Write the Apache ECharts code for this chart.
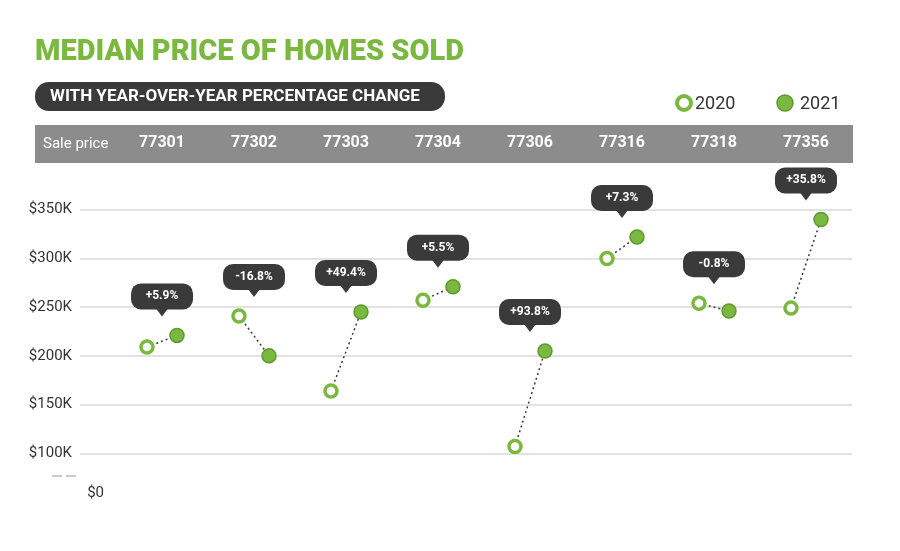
<!DOCTYPE html>
<html><head><meta charset="utf-8">
<script src="https://cdn.jsdelivr.net/npm/echarts@6/dist/echarts.min.js"></script>
<style>html,body{margin:0;background:#fff}#c{width:900px;height:551px}</style>
</head><body><div id="c"></div>
<script>
const zips = ['77301','77302','77303','77304','77306','77316','77318','77356'];
const price2020 = [209, 241, 164, 257, 107, 300, 254, 249];
const price2021 = [221, 200, 245, 271, 205, 322, 246, 340];
const changeLabels = ['+5.9%','-16.8%','+49.4%','+5.5%','+93.8%','+7.3%','-0.8%','+35.8%'];
const yTicks = [100,150,200,250,300,350];

const GREEN = '#7ab840', DARK = '#3a3a3a', FONT = 'Roboto, "Open Sans", sans-serif';
const chart = echarts.init(document.getElementById('c'));
const data = zips.map((z,i)=>[i, price2020[i], price2021[i], changeLabels[i]]);

chart.setOption({
  animation:false,
  grid:[{left:80,right:48,top:161,bottom:49},{left:116,right:48,top:161,bottom:49}],
  xAxis:[
    {gridIndex:0,type:'value',show:false,min:0,max:1},
    {gridIndex:1,type:'category',data:zips,position:'top',axisLine:{show:false},axisTick:{show:false},
     axisLabel:{color:'#fff',fontWeight:'bold',fontSize:16,margin:10,fontFamily:FONT}}
  ],
  yAxis:[
    {gridIndex:0,type:'value',min:50,max:400,interval:50,
     axisLine:{show:false},axisTick:{show:false},
     splitLine:{showMinLine:false,showMaxLine:false,lineStyle:{color:'#d9d9d9',width:1.5}},
     axisLabel:{showMinLabel:false,showMaxLabel:false,color:'#333',fontSize:15,fontFamily:FONT,margin:8,
       formatter:v=>yTicks.includes(v)?'$'+v+'K':''}},
    {gridIndex:1,type:'value',min:50,max:400,show:false}
  ],
  series:[{
    type:'custom',xAxisIndex:1,yAxisIndex:1,data:data,
    renderItem:(params,api)=>{
      const i=api.value(0);
      const p0=api.coord([i,api.value(1)]), p1=api.coord([i,api.value(2)]);
      const a=[p0[0]-15,p0[1]], b=[p1[0]+15,p1[1]];
      const cx=p0[0], top=Math.min(a[1],b[1])-24;
      const label=changeLabels[i];
      return {type:'group',children:[
        {type:'line',shape:{x1:a[0],y1:a[1],x2:b[0],y2:b[1]},style:{stroke:DARK,lineWidth:1.5,lineDash:[2,3]}},
        {type:'rect',shape:{x:cx-31,y:top-28,width:62,height:26,r:10},style:{fill:DARK}},
        {type:'polygon',shape:{points:[[cx-6,top-3],[cx+6,top-3],[cx,top+5]]},style:{fill:DARK}},
        {type:'text',style:{x:cx,y:top-15,text:label,fill:'#fff',font:'bold 12px '+FONT,align:'center',verticalAlign:'middle'}},
        {type:'circle',shape:{cx:a[0],cy:a[1],r:6},style:{fill:'#fff',stroke:GREEN,lineWidth:3.5}},
        {type:'circle',shape:{cx:b[0],cy:b[1],r:7},style:{fill:GREEN,stroke:'#5e9a2c',lineWidth:1.5}}
      ]};
    }
  }],
  graphic:[
    {type:'rect',z:-1,shape:{x:35,y:125,width:818,height:38},style:{fill:'#8c8c8c'}},
    {type:'text',style:{x:43,y:144,text:'Sale price',fill:'#fff',font:'15px '+FONT,verticalAlign:'middle'}},
    {type:'text',style:{x:35,y:53,text:'MEDIAN PRICE OF HOMES SOLD',fill:GREEN,font:'900 29px Roboto, sans-serif',verticalAlign:'middle'}},
    {type:'rect',shape:{x:35,y:82,width:410,height:29,r:14},style:{fill:DARK}},
    {type:'text',style:{x:50,y:97,text:'WITH YEAR-OVER-YEAR PERCENTAGE CHANGE',fill:'#fff',font:'bold 17px '+FONT,verticalAlign:'middle'}},
    {type:'circle',shape:{cx:684,cy:103,r:7},style:{fill:'#fff',stroke:GREEN,lineWidth:4}},
    {type:'text',style:{x:695,y:104,text:'2020',fill:'#333',font:'18px '+FONT,verticalAlign:'middle'}},
    {type:'circle',shape:{cx:785,cy:103,r:8},style:{fill:GREEN,stroke:'#5e9a2c',lineWidth:1.5}},
    {type:'text',style:{x:800,y:104,text:'2021',fill:'#333',font:'18px '+FONT,verticalAlign:'middle'}},
    {type:'line',shape:{x1:52,y1:476,x2:62,y2:476},style:{stroke:'#bbb',lineWidth:1.5}},
    {type:'line',shape:{x1:66,y1:476,x2:76,y2:476},style:{stroke:'#bbb',lineWidth:1.5}},
    {type:'text',style:{x:104,y:493,text:'$0',fill:'#333',font:'15px '+FONT,align:'right',verticalAlign:'middle'}}
  ]
});
</script></body></html>
